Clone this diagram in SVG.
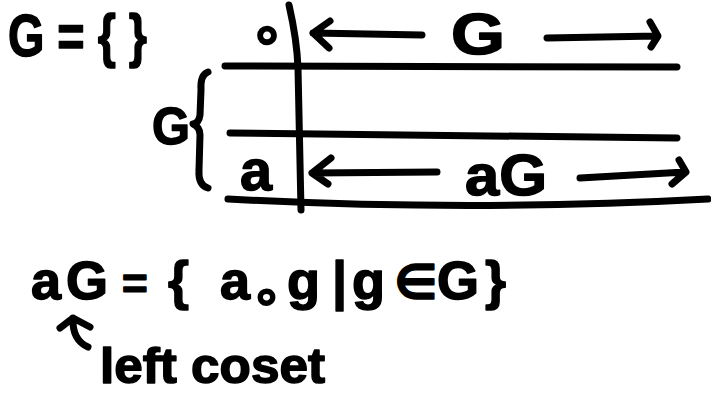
<svg xmlns="http://www.w3.org/2000/svg" width="711" height="400" viewBox="0 0 711 400">
<style>
.ink{fill:none;stroke:#000;stroke-width:7;stroke-linecap:round;stroke-linejoin:round}
.t{font-family:"Liberation Sans","DejaVu Sans",sans-serif;font-weight:bold;fill:#000;stroke:#000;stroke-width:1.5;stroke-linejoin:round}
</style>
<rect width="711" height="400" fill="#fff"/>
<g id="title">
<text class="t" x="8" y="56" font-size="60" textLength="139" lengthAdjust="spacingAndGlyphs">G = { }</text>
</g>
<g id="table">
<path class="ink" d="M289,5 Q297,40 298,68 L301,210"/>
<path class="ink" d="M225,66 L677,67"/>
<path class="ink" d="M230,133 Q450,136 677,138"/>
<path class="ink" d="M228,199 Q470,212 708,199"/>
</g>
<g id="corner">
<text class="t" x="267" y="53" font-size="56" text-anchor="middle" font-family="DejaVu Sans" stroke-width="2.5">∘</text>
</g>
<g id="header-G">
<text class="t" x="478" y="54" font-size="58" text-anchor="middle" textLength="54" lengthAdjust="spacingAndGlyphs">G</text>
</g>
<g id="row-a">
<text class="t" x="256" y="190" font-size="58" text-anchor="middle" textLength="32" lengthAdjust="spacingAndGlyphs">a</text>
</g>
<g id="row-aG">
<text class="t" x="465" y="195" font-size="58" textLength="82" lengthAdjust="spacingAndGlyphs">aG</text>
</g>
<g id="brace-G">
<path class="ink" d="M208,72 Q200,75 201,90 L200,115 Q199,123 193,124 Q200,127 200,135 L199,170 Q198,185 208,188"/>
<text class="t" x="171" y="144" font-size="52" text-anchor="middle" textLength="38" lengthAdjust="spacingAndGlyphs">G</text>
</g>
<g id="connectors">
<path class="ink" d="M313,33 L422,35 M330,21 L313,33 L329,48"/>
<path class="ink" d="M547,38 L657,36 M650,22 L658,36 L651,47"/>
<path class="ink" d="M312,173 L437,172 M331,158 L312,173 L328,184"/>
<path class="ink" d="M580,178 L685,172 M679,160 L686,172 L672,184"/>
<path class="ink" d="M60,328 L73,318 L90,327 M73,318 Q72,340 88,347"/>
</g>
<g id="formula">
<text class="t" y="299" font-size="54"><tspan x="31">a</tspan><tspan x="66">G</tspan> <tspan x="122" font-size="44">=</tspan> <tspan x="168">{</tspan> <tspan x="220">a</tspan><tspan x="251" y="313" font-family="DejaVu Sans" font-size="50">∘</tspan><tspan x="287" y="299">g</tspan> <tspan x="332">|</tspan> <tspan x="352">g</tspan> <tspan x="394" font-family="DejaVu Sans" font-size="48">∈</tspan> <tspan x="437">G</tspan><tspan x="485">}</tspan></text>
</g>
<g id="label">
<text class="t" x="100" y="383" font-size="50" textLength="225" lengthAdjust="spacingAndGlyphs">left coset</text>
</g>
</svg>
